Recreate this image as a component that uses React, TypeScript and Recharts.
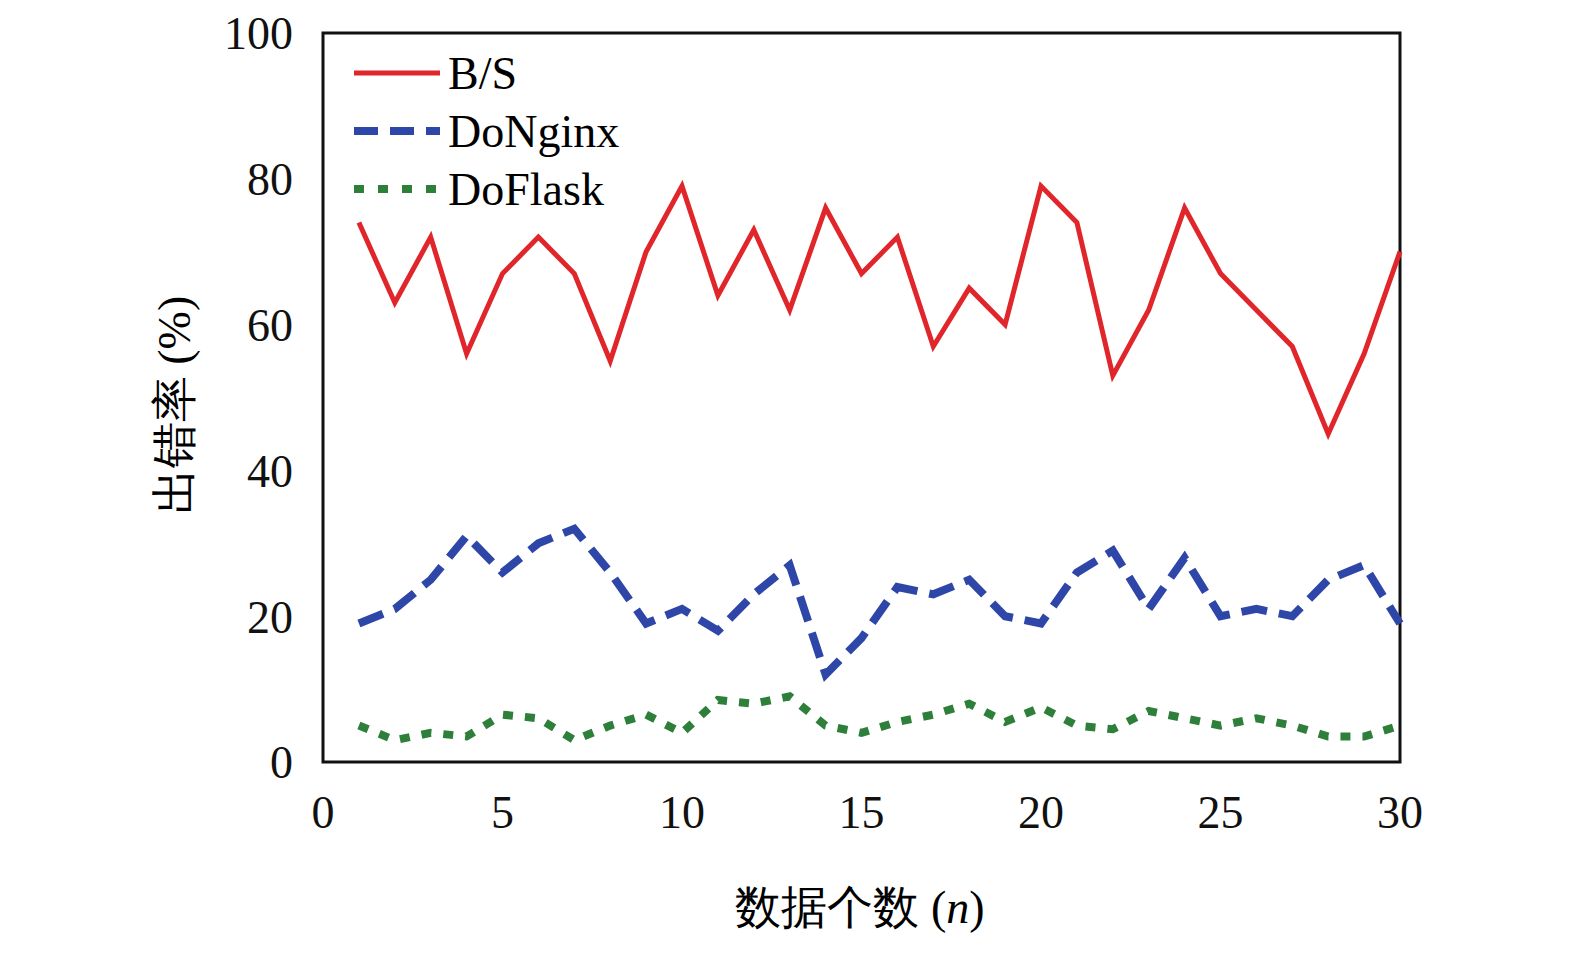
import React from "react";
import { LineChart, Line, XAxis, YAxis, ReferenceArea } from "recharts";

const xs = Array.from({ length: 30 }, (_, i) => i + 1);
const bs = [74, 63, 72, 56, 67, 72, 67, 55, 70, 79, 64, 73, 62, 76, 67, 72, 57, 65, 60, 79, 74, 53, 62, 76, 67, 62, 57, 45, 56, 70];
const nginx = [19, 21, 25, 31, 26, 30, 32, 26, 19, 21, 18, 23, 27, 12, 17, 24, 23, 25, 20, 19, 26, 29, 21, 28, 20, 21, 20, 25, 27, 19];
const flask = [5, 3, 4, 3.5, 6.5, 6, 3, 5, 6.5, 4, 8.5, 8, 9, 5, 4, 5.5, 6.5, 8, 5.5, 7.5, 5, 4.5, 7, 6, 5, 6, 5, 3.5, 3.5, 5];
const xTicks = [0, 5, 10, 15, 20, 25, 30];
const yTicks = [0, 20, 40, 60, 80, 100];
const data = xs.map((x, i) => ({ x, bs: bs[i], nginx: nginx[i], flask: flask[i] }));

const font = "'Liberation Serif', 'Times New Roman', serif";
const items = [
  { name: "B/S", color: "#e0262b", dash: "", w: 5 },
  { name: "DoNginx", color: "#2e46a8", dash: "24 12", w: 8 },
  { name: "DoFlask", color: "#2d7f3a", dash: "10 14", w: 8 },
];

export default function App() {
  return (
    <div style={{ margin: -8, position: "relative", width: 1575, height: 953, background: "#fff" }}>
      <LineChart width={1575} height={953} data={data} margin={{ top: 33, left: 243, right: 175, bottom: 131 }}>
        <XAxis dataKey="x" type="number" domain={[0, 30]} ticks={xTicks} axisLine={false} tickLine={false}
          height={60} tick={{ fontFamily: font, fontSize: 46, fill: "#111" }} dy={25} />
        <YAxis type="number" domain={[0, 100]} ticks={yTicks} axisLine={false} tickLine={false} width={80}
          tick={{ fontFamily: font, fontSize: 46, fill: "#111" }} dx={-22} />
        <ReferenceArea x1={0} x2={30} y1={0} y2={100} fill="none" stroke="#111" strokeWidth={3} />
        <Line dataKey="bs" stroke="#e0262b" strokeWidth={5} dot={false} isAnimationActive={false} />
        <Line dataKey="nginx" stroke="#2e46a8" strokeWidth={8} strokeDasharray="26 12" dot={false} isAnimationActive={false} />
        <Line dataKey="flask" stroke="#2d7f3a" strokeWidth={8} strokeDasharray="10 12" dot={false} isAnimationActive={false} />
      </LineChart>
      <div style={{ position: "absolute", left: 352, top: 44, fontFamily: font, fontSize: 46 }}>
        {items.map((it) => (
          <div key={it.name} style={{ display: "flex", alignItems: "center", height: 58 }}>
            <svg width={90} height={20} style={{ marginRight: 6 }}>
              <line x1={2} y1={10} x2={88} y2={10} stroke={it.color} strokeWidth={it.w} strokeDasharray={it.dash} />
            </svg>
            <span>{it.name}</span>
          </div>
        ))}
      </div>
      <div style={{ position: "absolute", left: 175, top: 405, transform: "translate(-50%,-50%) rotate(-90deg)", fontFamily: font, fontSize: 46, whiteSpace: "nowrap" }}>
        出错率 (%)
      </div>
      <div style={{ position: "absolute", left: 860, top: 908, transform: "translate(-50%,-50%)", fontFamily: font, fontSize: 46, whiteSpace: "nowrap" }}>
        数据个数 (<i>n</i>)
      </div>
    </div>
  );
}
